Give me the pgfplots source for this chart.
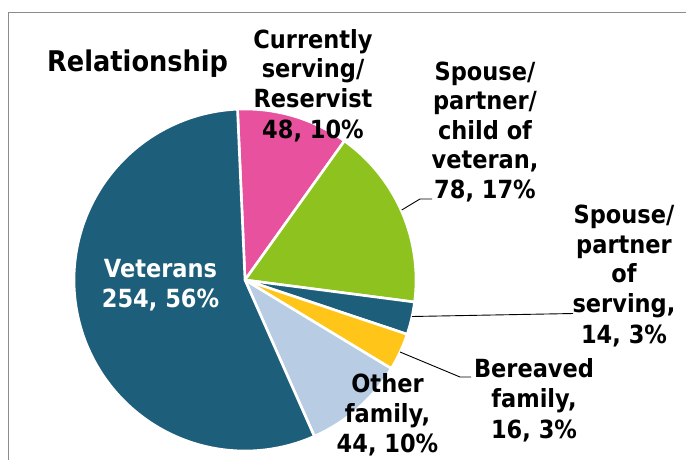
\documentclass[border=0pt]{standalone}
\usepackage{pgfplots}
\pgfplotsset{compat=1.18}
\usepackage{pgfplotstable}
\usepackage{fontspec}
\setmainfont{DejaVu Sans}[FakeStretch=0.9]

\definecolor{vetc}{HTML}{1D5F7A}
\definecolor{pinkc}{HTML}{E8519E}
\definecolor{greenc}{HTML}{8DC21F}
\definecolor{yellowc}{HTML}{FFC519}
\definecolor{lbluec}{HTML}{B8CCE4}
\definecolor{framec}{HTML}{8C8C8C}

\pgfplotstableread[col sep=comma]{
group,value
Currently serving/Reservist,48
Spouse/partner/child of veteran,78
Spouse/partner of serving,14
Bereaved family,16
Other family,44
Veterans,254
}\piedata

\newcommand\lf{\bfseries\fontsize{25}{30}\selectfont}

\begin{document}
\begin{tikzpicture}
\pgfplotstablegetelem{0}{value}\of\piedata\let\vA\pgfplotsretval
\pgfplotstablegetelem{1}{value}\of\piedata\let\vB\pgfplotsretval
\pgfplotstablegetelem{2}{value}\of\piedata\let\vC\pgfplotsretval
\pgfplotstablegetelem{3}{value}\of\piedata\let\vD\pgfplotsretval
\pgfplotstablegetelem{4}{value}\of\piedata\let\vE\pgfplotsretval
\pgfplotstablegetelem{5}{value}\of\piedata\let\vF\pgfplotsretval
\pgfmathsetmacro\total{\vA+\vB+\vC+\vD+\vE+\vF}
\def\aA{92.5}
\pgfmathsetmacro\aB{\aA-\vA/\total*360}
\pgfmathsetmacro\aC{\aB-\vB/\total*360}
\pgfmathsetmacro\aD{\aC-\vC/\total*360}
\pgfmathsetmacro\aE{\aD-\vD/\total*360}
\pgfmathsetmacro\aF{\aE-\vE/\total*360}
\pgfmathsetmacro\aG{\aF-\vF/\total*360}
\def\cx{245}\def\cy{280}\def\R{171}
\useasboundingbox (0,0) rectangle (686pt,459pt);
\fill[white] (0,0) rectangle (686pt,459pt);
\begin{axis}[
  at={(0,0)}, anchor=south west,
  width=686pt, height=459pt, scale only axis,
  xmin=0, xmax=686, ymin=0, ymax=459, y dir=reverse,
  hide axis, clip=false,
  wedge/.style={draw=white, line width=2.6pt, line join=round, samples=90, smooth},
]
\draw[framec, line width=1.4pt] (axis cs:8.5,12.5) rectangle (axis cs:720,500);
\addplot[wedge, fill=pinkc,   domain=\aB:\aA] ({\cx+\R*cos(x)},{\cy-\R*sin(x)}) -- (axis cs:\cx,\cy) -- cycle;
\addplot[wedge, fill=greenc,  domain=\aC:\aB] ({\cx+\R*cos(x)},{\cy-\R*sin(x)}) -- (axis cs:\cx,\cy) -- cycle;
\addplot[wedge, fill=vetc,    domain=\aD:\aC] ({\cx+\R*cos(x)},{\cy-\R*sin(x)}) -- (axis cs:\cx,\cy) -- cycle;
\addplot[wedge, fill=yellowc, domain=\aE:\aD] ({\cx+\R*cos(x)},{\cy-\R*sin(x)}) -- (axis cs:\cx,\cy) -- cycle;
\addplot[wedge, fill=lbluec,  domain=\aF:\aE] ({\cx+\R*cos(x)},{\cy-\R*sin(x)}) -- (axis cs:\cx,\cy) -- cycle;
\addplot[wedge, fill=vetc,    domain=\aG:\aF] ({\cx+\R*cos(x)},{\cy-\R*sin(x)}) -- (axis cs:\cx,\cy) -- cycle;

% leader lines
\draw[black, line width=0.9pt] (axis cs:401.7,210) -- (axis cs:420,199) -- (axis cs:432,199);
\draw[black, line width=0.9pt] (axis cs:412,316.5) -- (axis cs:573,313.5);
\draw[black, line width=0.9pt] (axis cs:400,352) -- (axis cs:460,377) -- (axis cs:471,377);

% title
\node[anchor=base west, font=\bfseries\fontsize{28.5}{30}\selectfont, inner sep=0pt] at (axis cs:47,71.7) {Relationship};

% labels
\node[anchor=base, font=\lf, inner sep=0pt] at (axis cs:313,48.5) {Currently};
\node[anchor=base, font=\lf, inner sep=0pt] at (axis cs:313,77) {serving/};
\node[anchor=base, font=\lf, inner sep=0pt] at (axis cs:313,107) {Reservist};
\node[anchor=base, font=\lf, inner sep=0pt] at (axis cs:313,138) {48, 10\%};

\node[anchor=base, font=\lf, inner sep=0pt] at (axis cs:485,80) {Spouse/};
\node[anchor=base, font=\lf, inner sep=0pt] at (axis cs:485,109.5) {partner/};
\node[anchor=base, font=\lf, inner sep=0pt] at (axis cs:485,139) {child of};
\node[anchor=base, font=\lf, inner sep=0pt] at (axis cs:485,168.5) {veteran,};
\node[anchor=base, font=\lf, inner sep=0pt] at (axis cs:485,198.5) {78, 17\%};

\node[anchor=base, font=\lf, inner sep=0pt] at (axis cs:624,223) {Spouse/};
\node[anchor=base, font=\lf, inner sep=0pt] at (axis cs:624,253) {partner};
\node[anchor=base, font=\lf, inner sep=0pt] at (axis cs:624,282.5) {of};
\node[anchor=base, font=\lf, inner sep=0pt] at (axis cs:624,312.5) {serving,};
\node[anchor=base, font=\lf, inner sep=0pt] at (axis cs:624,343) {14, 3\%};

\node[anchor=base, font=\lf, inner sep=0pt] at (axis cs:534,377) {Bereaved};
\node[anchor=base, font=\lf, inner sep=0pt] at (axis cs:534,407.5) {family,};
\node[anchor=base, font=\lf, inner sep=0pt] at (axis cs:534,438) {16, 3\%};

\node[anchor=base, font=\lf, inner sep=0pt] at (axis cs:387.5,392) {Other};
\node[anchor=base, font=\lf, inner sep=0pt] at (axis cs:387.5,422) {family,};
\node[anchor=base, font=\lf, inner sep=0pt] at (axis cs:387.5,452) {44, 10\%};

\node[anchor=base, font=\lf, text=white, inner sep=0pt] at (axis cs:160.5,277) {Veterans};
\node[anchor=base, font=\lf, text=white, inner sep=0pt] at (axis cs:160.5,307) {254, 56\%};
\end{axis}
\end{tikzpicture}
\end{document}
